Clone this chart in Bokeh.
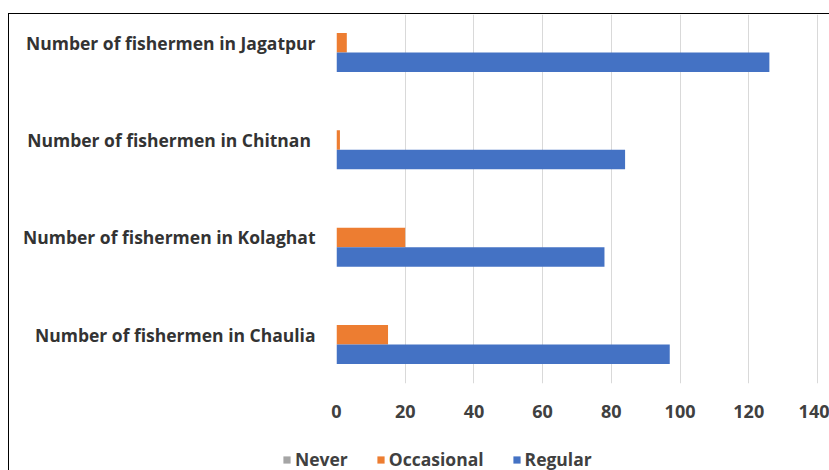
from bokeh.plotting import figure
from bokeh.layouts import column
from bokeh.models import (ColumnDataSource, Range1d, FixedTicker, Legend,
                          LegendItem)
from bokeh.transform import dodge
from bokeh.embed import file_html
from bokeh.resources import INLINE

# Villages, listed bottom to top as they appear on the vertical axis
villages = [
    "Number of fishermen in Chaulia",
    "Number of fishermen in Kolaghat",
    "Number of fishermen in  Chitnan",
    "Number of fishermen in Jagatpur",
]
series = ["Never", "Occasional", "Regular"]
colors = ["#a5a5a5", "#ed7d31", "#4472c4"]
never = [0, 0, 0, 0]
occasional = [15, 20, 1, 3]
regular = [97, 78, 84, 126]
x_ticks = [0, 20, 40, 60, 80, 100, 120, 140]

FONT = "Open Sans"
TEXT = "#404040"

src = ColumnDataSource(dict(
    pos=list(range(len(villages))),
    never=never,
    occasional=occasional,
    regular=regular,
))

p = figure(
    width=820, height=426,
    output_backend="svg", toolbar_location=None,
    x_range=Range1d(0, 143.5), y_range=Range1d(-0.5, 3.29),
    min_border_left=327, min_border_right=0,
    min_border_top=0, min_border_bottom=57,
)
p.outline_line_color = None

# one bar per series in each village group: Never on top, Regular at the bottom
bar_h = 0.2
for col, color, off in zip(["never", "occasional", "regular"], colors,
                           [bar_h, 0, -bar_h]):
    p.hbar(y=dodge("pos", off, range=p.y_range), left=0, right=col,
           height=bar_h, source=src, fill_color=color, line_color=None)

# grid
p.ygrid.grid_line_color = None
p.xgrid.grid_line_color = "#d9d9d9"
p.xgrid.grid_line_width = 1
p.xgrid.ticker = FixedTicker(ticks=x_ticks)

# x axis
p.xaxis.ticker = FixedTicker(ticks=x_ticks)
p.xaxis.axis_line_color = None
p.xaxis.major_tick_line_color = None
p.xaxis.minor_tick_line_color = None
p.xaxis.major_label_standoff = 15
p.xaxis.major_label_text_font = FONT
p.xaxis.major_label_text_font_style = "bold"
p.xaxis.major_label_text_font_size = "18px"
p.xaxis.major_label_text_color = TEXT

# y axis with village names
p.yaxis.ticker = FixedTicker(ticks=list(range(len(villages))))
p.yaxis.major_label_overrides = {i: v for i, v in enumerate(villages)}
p.yaxis.axis_line_color = None
p.yaxis.major_tick_line_color = None
p.yaxis.minor_tick_line_color = None
p.yaxis.major_label_standoff = 15
p.yaxis.major_label_text_font = FONT
p.yaxis.major_label_text_font_style = "bold"
p.yaxis.major_label_text_font_size = "17.5px"
p.yaxis.major_label_text_color = "#333333"

# legend strip under the chart (zero-width swatch glyphs)
lg = figure(
    width=820, height=30,
    output_backend="svg", toolbar_location=None,
    x_range=Range1d(0, 1), y_range=Range1d(0, 1),
    min_border=0,
)
lg.frame_align = False
lg.axis.visible = False
lg.grid.visible = False
lg.outline_line_color = None
items = []
for name, color in zip(series, colors):
    r = lg.hbar(y=[0.5], right=[0], left=[0], height=0.5,
                fill_color=color, line_color=None)
    items.append(LegendItem(label=name, renderers=[r]))
legend = Legend(
    items=items,
    orientation="horizontal",
    location=(273, -1),
    glyph_width=9, glyph_height=9,
    label_standoff=4, spacing=28, padding=0, margin=0,
    label_text_font=FONT, label_text_font_style="bold",
    label_text_font_size="17.5px", label_text_color=TEXT,
    background_fill_alpha=0, border_line_color=None,
)
lg.add_layout(legend, "center")

layout = column(p, lg, spacing=0)
layout.styles = {"margin-left": "8px", "margin-top": "13px",
                 "border-left": "1px solid #000", "border-top": "1px solid #000"}

open("out.html", "w").write(file_html(layout, INLINE))
